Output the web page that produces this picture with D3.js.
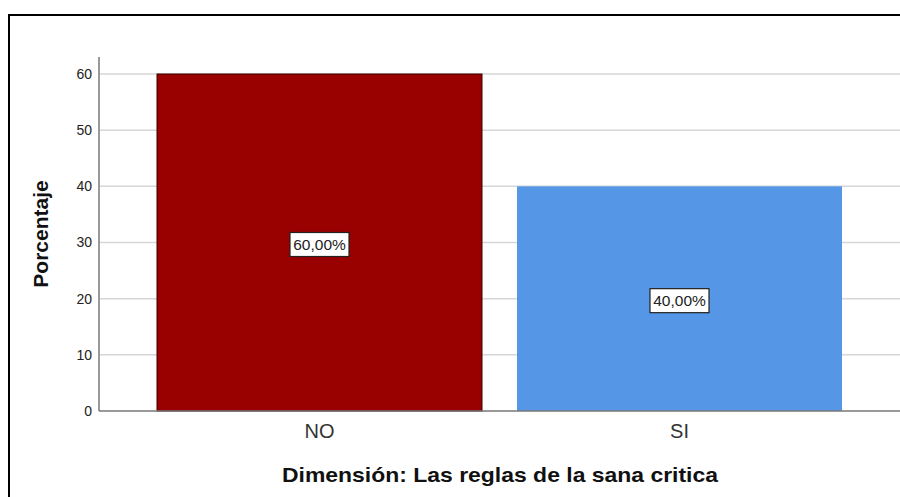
<!DOCTYPE html>
<html>
<head>
<meta charset="utf-8">
<script src="https://cdn.jsdelivr.net/npm/d3@7"></script>
<style>
  html, body { margin: 0; padding: 0; background: #fff; }
  svg { display: block; }
</style>
</head>
<body>
<svg id="chart" width="900" height="497"></svg>
<script>
const categories = ["NO", "SI"];
const values = [60, 40];
const valueLabels = ["60,00%", "40,00%"];
const barColors = ["#990000", "#5596E6"];
const yTicks = [0, 10, 20, 30, 40, 50, 60];
const yTitle = "Porcentaje";
const xTitle = "Dimensión: Las reglas de la sana critica";

const svg = d3.select("#chart");
const font = "'Liberation Sans', Arial, sans-serif";

// outer frame
svg.append("path")
  .attr("d", "M9,497 V15 H900")
  .attr("fill", "none").attr("stroke", "#000").attr("stroke-width", 2);

const x = d3.scaleBand().domain(categories).range([99, 900])
  .paddingInner(35 / 360).paddingOuter(58 / 360);
const y = d3.scaleLinear().domain([0, 60]).range([411, 74]);

// gridlines
svg.append("g").selectAll("line").data(yTicks.filter(d => d > 0)).join("line")
  .attr("x1", 100).attr("x2", 900)
  .attr("y1", d => y(d)).attr("y2", d => y(d))
  .attr("stroke", "#d6d6d6").attr("stroke-width", 1.5);

// bars
svg.append("g").selectAll("rect").data(categories).join("rect")
  .attr("x", d => x(d))
  .attr("y", (d, i) => y(values[i]))
  .attr("width", x.bandwidth())
  .attr("height", (d, i) => y(0) - y(values[i]))
  .attr("fill", (d, i) => barColors[i])
  .attr("stroke", (d, i) => i === 0 ? "#3a0000" : "none")
  .attr("stroke-width", 1);

// y axis
const yAxis = svg.append("g").attr("transform", "translate(99,0)")
  .call(d3.axisLeft(y).tickValues(yTicks).tickSize(0).tickPadding(7));
yAxis.select(".domain").attr("stroke", "#777").attr("stroke-width", 1.5)
  .attr("d", "M0,57V411");
yAxis.selectAll("text").attr("font-family", font).attr("font-size", 14).attr("fill", "#222");

// x axis
const xAxis = svg.append("g").attr("transform", "translate(0,411)")
  .call(d3.axisBottom(x).tickSize(0).tickPadding(13));
xAxis.select(".domain").attr("stroke", "#777").attr("stroke-width", 1.5)
  .attr("d", "M99,0H900");
xAxis.selectAll("text").attr("font-family", font).attr("font-size", 20).attr("fill", "#333");

// value labels
const lab = svg.append("g").selectAll("g").data(categories).join("g")
  .attr("transform", (d, i) => `translate(${x(d) + x.bandwidth() / 2},${(y(values[i]) + y(0)) / 2 + 2})`);
lab.append("rect")
  .attr("x", -29.5).attr("y", -12).attr("width", 59).attr("height", 24)
  .attr("fill", "#fff").attr("stroke", "#222").attr("stroke-width", 1.2);
lab.append("text")
  .attr("text-anchor", "middle").attr("dy", "0.36em")
  .attr("font-family", font).attr("font-size", 15.5).attr("fill", "#222")
  .text((d, i) => valueLabels[i]);

// axis titles
svg.append("text")
  .attr("transform", "translate(48,234) rotate(-90)")
  .attr("text-anchor", "middle")
  .attr("font-family", font).attr("font-size", 21).attr("font-weight", "bold").attr("fill", "#111")
  .text(yTitle);
svg.append("text")
  .attr("x", 500).attr("y", 482)
  .attr("text-anchor", "middle")
  .attr("textLength", 436).attr("lengthAdjust", "spacingAndGlyphs")
  .attr("font-family", font).attr("font-size", 21).attr("font-weight", "bold").attr("fill", "#111")
  .text(xTitle);
</script>
</body>
</html>
